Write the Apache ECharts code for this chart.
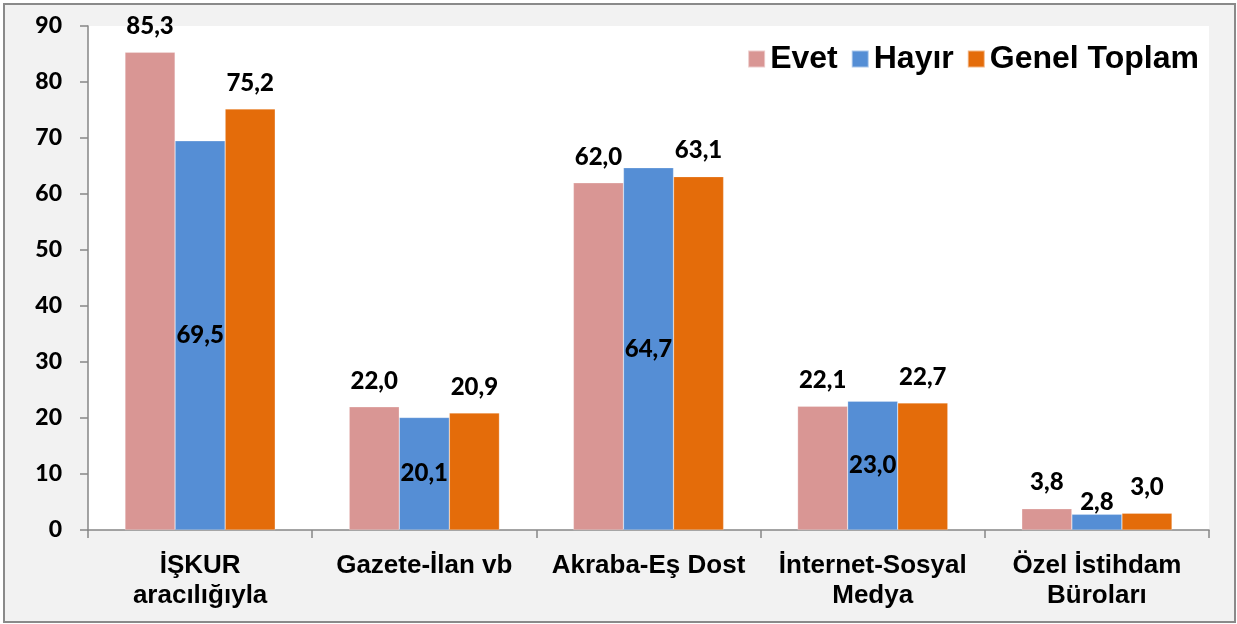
<!DOCTYPE html>
<html>
<head>
<meta charset="utf-8">
<script src="https://cdn.jsdelivr.net/npm/echarts@6/dist/echarts.min.js"></script>
<style>
    body { margin: 0; background: #fff; }
    #frame { position: absolute; left: 3px; top: 3px; width: 1229px; height: 616px;
             border: 2px solid #8a8a8a; background: #f2f2f2; }
    #chart { position: absolute; left: 0; top: 0; width: 1237px; height: 624px; }
</style>
</head>
<body>
<div id="frame"></div>
<div id="chart"></div>
<script>
const categories = ['İŞKUR\naracılığıyla', 'Gazete-İlan vb', 'Akraba-Eş Dost', 'İnternet-Sosyal\nMedya', 'Özel İstihdam\nBüroları'];
const evet = [85.3, 22.0, 62.0, 22.1, 3.8];
const hayir = [69.5, 20.1, 64.7, 23.0, 2.8];
const genel = [75.2, 20.9, 63.1, 22.7, 3.0];

const label_font = 'Lato';
const axis_font = '"Liberation Sans", Arial';

function fmt(p) {
    return p.value.toFixed(1).replace('.', ',');
}

function top_label(dist) {
    return {
        show: true, position: 'top', distance: dist, formatter: fmt,
        color: '#000', fontFamily: label_font, fontWeight: 900, fontSize: 24
    };
}

function gen_bar(name, values, color, label) {
    return {
        name: name,
        type: 'bar',
        data: values,
        barGap: '0%',
        barCategoryGap: '33%',
        itemStyle: {color: color, borderColor: 'rgba(255,255,255,0.5)', borderWidth: 0.5},
        label: label
    };
}

// Hayır labels sit in the middle of the bar, except the tiny last one
let hayir_data = hayir.map((v, i) => i === hayir.length - 1
    ? {value: v, label: top_label(0)}
    : {value: v});

let chart = echarts.init(document.getElementById('chart'), null, {renderer: 'canvas'});

let option = {
    animation: false,
    grid: {
        left: 88, right: 28, top: 26, bottom: 94,
        show: true, backgroundColor: '#fff', borderWidth: 0
    },
    legend: {
        right: 33, top: 38,
        itemWidth: 17, itemHeight: 17, itemGap: 13,
        icon: 'rect',
        textStyle: {fontFamily: axis_font, fontWeight: 'bold', fontSize: 32, color: '#000'},
        data: ['Evet', 'Hayır', 'Genel Toplam']
    },
    xAxis: {
        type: 'category',
        data: categories,
        axisLine: {lineStyle: {color: '#868686', width: 1.5}},
        axisTick: {show: true, length: 8, inside: false, lineStyle: {color: '#868686', width: 1.5}},
        axisLabel: {
            margin: 21, fontFamily: axis_font, fontWeight: 'bold', fontSize: 26,
            lineHeight: 30, color: '#000', interval: 0
        }
    },
    yAxis: {
        type: 'value',
        min: 0, max: 90, interval: 10,
        axisLine: {show: true, lineStyle: {color: '#868686', width: 1.5}},
        axisTick: {show: true, length: 8, lineStyle: {color: '#868686', width: 1.5}},
        splitLine: {show: false},
        axisLabel: {margin: 26, fontFamily: label_font, fontWeight: 900, fontSize: 23, color: '#000'}
    },
    series: [
        gen_bar('Evet', evet, '#D99694', top_label(14)),
        gen_bar('Hayır', hayir_data, '#558ED5', {
            show: true, position: 'inside', formatter: fmt,
            color: '#000', fontFamily: label_font, fontWeight: 900, fontSize: 24
        }),
        gen_bar('Genel Toplam', genel, '#E46C0A', top_label(14))
    ]
};

chart.setOption(option);
</script>
</body>
</html>
